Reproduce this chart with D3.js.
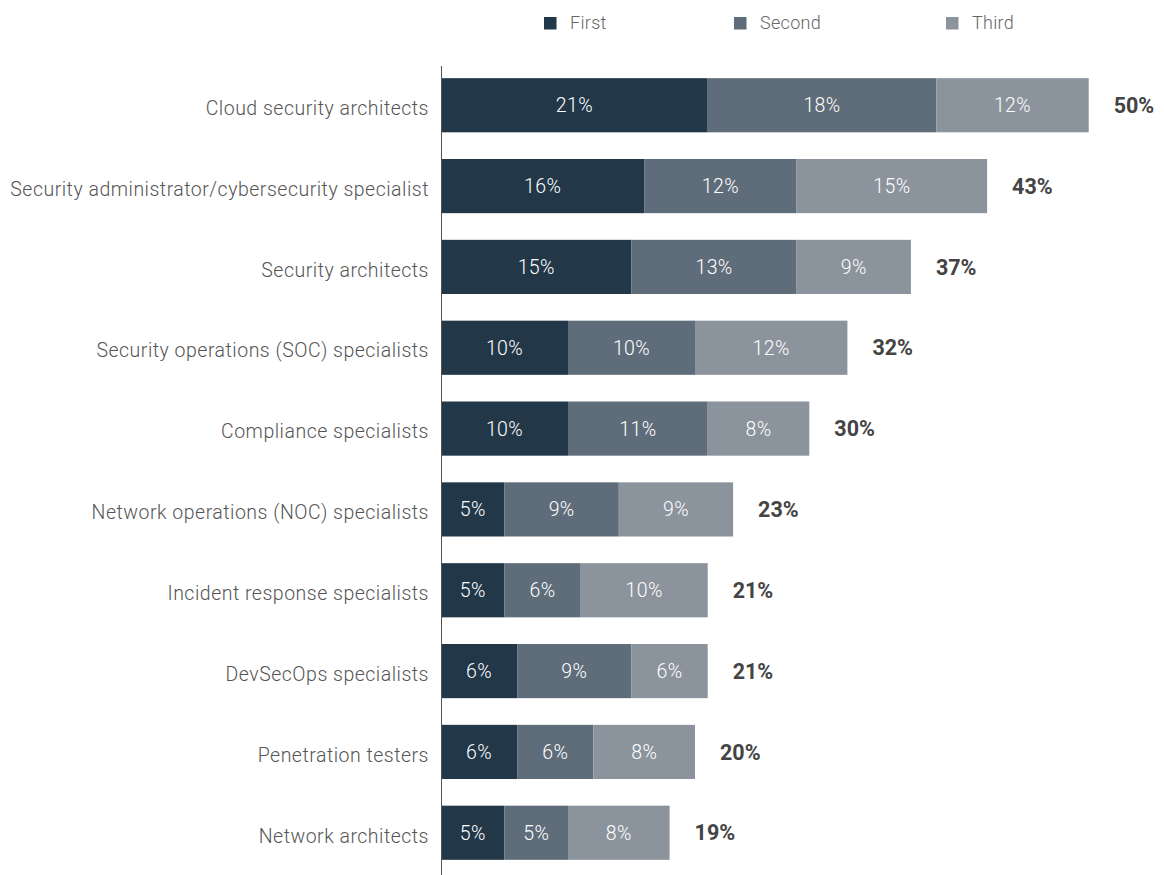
<!DOCTYPE html>
<html>
<head>
<meta charset="utf-8">
<script src="https://cdn.jsdelivr.net/npm/d3@7"></script>
<style>
  html, body { margin: 0; padding: 0; background: #fff; }
  svg { display: block; }
  text { font-family: Roboto, "Liberation Sans", Arial, sans-serif; }
</style>
</head>
<body>
<svg id="chart" width="1164" height="875"></svg>
<script>
// Roles, ranked share of respondents (first / second / third choice) and totals
const roles = [
  "Cloud security architects",
  "Security administrator/cybersecurity specialist",
  "Security architects",
  "Security operations (SOC) specialists",
  "Compliance specialists",
  "Network operations (NOC) specialists",
  "Incident response specialists",
  "DevSecOps specialists",
  "Penetration testers",
  "Network architects"
];
const firstValues  = [21, 16, 15, 10, 10, 5, 5, 6, 6, 5];
const secondValues = [18, 12, 13, 10, 11, 9, 6, 9, 6, 5];
const thirdValues  = [12, 15,  9, 12,  8, 9, 10, 6, 8, 8];
const totalValues  = [50, 43, 37, 32, 30, 23, 21, 21, 20, 19];
const seriesNames  = ["First", "Second", "Third"];
const seriesColors = ["#223748", "#5f6c79", "#8b939c"];

const svg = d3.select("#chart");
const axisX = 441;

const x = d3.scaleLinear().domain([0, 55]).range([axisX, axisX + 55 * 12.7]);
const y = d3.scaleBand().domain(roles).range([62, 876]).paddingInner(0.33).paddingOuter(0.2);

const rows = roles.map((r, i) => ({ role: r, vals: [firstValues[i], secondValues[i], thirdValues[i]], total: totalValues[i] }));
const stack = d3.stack().keys([0, 1, 2]).value((d, k) => d.vals[k]);
const layers = stack(rows);

// Stacked segments with their value labels
const g = svg.append("g");
layers.forEach((layer, k) => {
  const lg = g.append("g").attr("fill", seriesColors[k]);
  lg.selectAll("rect").data(layer).join("rect")
    .attr("x", d => x(d[0]))
    .attr("width", d => x(d[1]) - x(d[0]))
    .attr("y", d => y(d.data.role))
    .attr("height", y.bandwidth());
  g.append("g").selectAll("text").data(layer).join("text")
    .attr("x", d => (x(d[0]) + x(d[1])) / 2)
    .attr("y", d => y(d.data.role) + y.bandwidth() / 2)
    .attr("dy", "0.36em")
    .attr("text-anchor", "middle")
    .attr("fill", "#ffffff")
    .attr("font-size", 19.5)
    .attr("font-weight", 300)
    .attr("letter-spacing", 0.4)
    .text(d => d.data.vals[k] + "%");
});

// Totals at the end of each bar
g.append("g").selectAll("text").data(layers[2]).join("text")
  .attr("x", d => x(d[1]) + 25)
  .attr("y", d => y(d.data.role) + y.bandwidth() / 2)
  .attr("dy", "0.36em")
  .attr("fill", "#444")
  .attr("font-size", 21.5)
  .attr("font-weight", 700)
  .text(d => d.data.total + "%");

// Category axis
const yAxis = svg.append("g")
  .attr("transform", `translate(${axisX},0)`)
  .call(d3.axisLeft(y).tickSize(0).tickPadding(12));
yAxis.select(".domain").remove();
yAxis.selectAll("text")
  .attr("dy", "0.5em")
  .attr("font-size", 19.5)
  .attr("font-weight", 300)
  .attr("letter-spacing", 0.5)
  .attr("fill", "#555")
  .style("font-family", "Roboto, 'Liberation Sans', Arial, sans-serif");

svg.append("line")
  .attr("x1", axisX + 0.5).attr("x2", axisX + 0.5)
  .attr("y1", 66).attr("y2", 875)
  .attr("stroke", "#555").attr("stroke-width", 1);

// Legend
const legendX = [544, 734, 946];
const legend = svg.append("g");
seriesNames.forEach((name, k) => {
  legend.append("rect")
    .attr("x", legendX[k]).attr("y", 17)
    .attr("width", 12.5).attr("height", 12.5)
    .attr("fill", seriesColors[k]);
  legend.append("text")
    .attr("x", legendX[k] + 26).attr("y", 23)
    .attr("dy", "0.36em")
    .attr("font-size", 18)
    .attr("font-weight", 300)
    .attr("letter-spacing", 0.3)
    .attr("fill", "#666")
    .text(name);
});
</script>
</body>
</html>
